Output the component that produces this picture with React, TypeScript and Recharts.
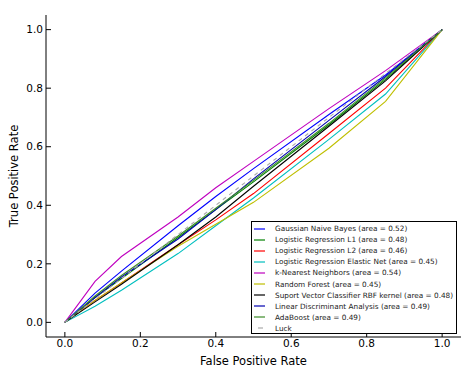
import { LineChart, Line, XAxis, YAxis, Legend } from 'recharts'

// false positive rate grid shared by every curve
const fpr = [0, 0.08, 0.15, 0.3, 0.4, 0.5, 0.7, 0.85, 1]

const gaussianNB = [0, 0.1, 0.175, 0.33, 0.43, 0.525, 0.71, 0.845, 1]
const logRegL1 = [0, 0.085, 0.15, 0.29, 0.385, 0.48, 0.675, 0.83, 1]
const logRegL2 = [0, 0.075, 0.135, 0.265, 0.35, 0.44, 0.645, 0.8, 1]
const logRegElastic = [0, 0.055, 0.11, 0.235, 0.33, 0.425, 0.625, 0.78, 1]
const knn = [0, 0.14, 0.225, 0.36, 0.46, 0.55, 0.73, 0.86, 1]
const randomForest = [0, 0.075, 0.135, 0.26, 0.335, 0.41, 0.595, 0.755, 1]
const svcRbf = [0, 0.07, 0.13, 0.265, 0.36, 0.465, 0.67, 0.825, 1]
const lda = [0, 0.085, 0.155, 0.285, 0.385, 0.49, 0.69, 0.84, 1]
const adaBoost = [0, 0.09, 0.16, 0.295, 0.39, 0.485, 0.68, 0.835, 1]

const luckX = [0, 1]
const ticks = [0, 0.2, 0.4, 0.6, 0.8, 1.0]

const toPoints = (ys: number[]) => ys.map((y, i) => ({ x: fpr[i], y }))

const series = [
  { name: 'Gaussian Naive Bayes (area = 0.52)', color: '#0000ff', data: toPoints(gaussianNB) },
  { name: 'Logistic Regression L1 (area = 0.48)', color: '#008000', data: toPoints(logRegL1) },
  { name: 'Logistic Regression L2 (area = 0.46)', color: '#ff0000', data: toPoints(logRegL2) },
  { name: 'Logistic Regression Elastic Net (area = 0.45)', color: '#00bfbf', data: toPoints(logRegElastic) },
  { name: 'k-Nearest Neighbors (area = 0.54)', color: '#bf00bf', data: toPoints(knn) },
  { name: 'Random Forest (area = 0.45)', color: '#bfbf00', data: toPoints(randomForest) },
  { name: 'Suport Vector Classifier RBF kernel (area = 0.48)', color: '#000000', data: toPoints(svcRbf) },
  { name: 'Linear Discriminant Analysis (area = 0.49)', color: '#0000b0', data: toPoints(lda) },
  { name: 'AdaBoost (area = 0.49)', color: '#3c8c28', data: toPoints(adaBoost) },
]

const luck = luckX.map((v) => ({ x: v, y: v }))
const luckColor = '#aaaaaa'

const font = '"DejaVu Sans", sans-serif'

// legend drawn in series order (recharts would sort it by name)
const CustomLegend = () => {
  const entries = [...series.map((s) => ({ value: s.name, color: s.color })), { value: 'Luck', color: luckColor }]
  return (
    <div
      style={{
        width: 204,
        height: 110,
        border: '1px solid #000',
        background: '#fff',
        fontFamily: font,
        fontSize: 7.3,
        paddingTop: 1,
      }}
    >
      {entries.map((entry, index) => (
        <div key={index} style={{ display: 'flex', alignItems: 'center', height: 11.1 }}>
          <svg width={21} height={4} style={{ marginLeft: 2, flexShrink: 0 }}>
            {entry.value === 'Luck' ? (
              <line x1={4} y1={2} x2={9} y2={2} stroke={luckColor} strokeWidth={1.2} />
            ) : (
              <line x1={0} y1={2} x2={11} y2={2} stroke={entry.color} strokeWidth={1.2} />
            )}
          </svg>
          <span style={{ color: '#222', whiteSpace: 'nowrap' }}>{entry.value}</span>
        </div>
      ))}
    </div>
  )
}

export default function App() {
  return (
    <div>
      <style>{'body{margin:0;background:#fff}'}</style>
      <LineChart width={474} height={368} margin={{ top: 15, right: 13, bottom: 0, left: 0 }}>
        <XAxis
          dataKey="x"
          type="number"
          domain={[-0.05, 1.05]}
          ticks={ticks}
          tickFormatter={(v: number) => v.toFixed(1)}
          allowDataOverflow
          height={31}
          tickSize={-5}
          tickMargin={8}
          stroke="#000"
          tick={{ fill: '#000', fontSize: 10.5, fontFamily: font }}
          label={{ value: 'False Positive Rate', position: 'insideBottom', offset: 3, fill: '#000', fontSize: 11.5, fontFamily: font }}
        />
        <XAxis
          xAxisId="top"
          orientation="top"
          dataKey="x"
          type="number"
          domain={[-0.05, 1.05]}
          ticks={ticks}
          height={0}
          tickSize={-5}
          tick={false}
          stroke="#000"
        />
        <YAxis
          dataKey="y"
          type="number"
          domain={[-0.05, 1.05]}
          ticks={ticks}
          tickFormatter={(v: number) => v.toFixed(1)}
          allowDataOverflow
          width={46}
          tickSize={-5}
          tickMargin={8}
          stroke="#000"
          tick={{ fill: '#000', fontSize: 10.5, fontFamily: font }}
          label={{ value: 'True Positive Rate', angle: -90, position: 'insideLeft', offset: 14, fill: '#000', fontSize: 11.5, fontFamily: font, style: { textAnchor: 'middle' } }}
        />
        <YAxis
          yAxisId="right"
          orientation="right"
          dataKey="y"
          type="number"
          domain={[-0.05, 1.05]}
          ticks={ticks}
          width={0}
          tickSize={-5}
          tick={false}
          stroke="#000"
        />
        {series.map((s) => (
          <Line
            key={s.name}
            data={s.data}
            dataKey="y"
            name={s.name}
            type="linear"
            stroke={s.color}
            strokeWidth={1.1}
            dot={false}
            isAnimationActive={false}
          />
        ))}
        <Line
          data={luck}
          dataKey="y"
          name="Luck"
          type="linear"
          stroke={luckColor}
          strokeWidth={1.1}
          strokeDasharray="4 4"
          dot={false}
          isAnimationActive={false}
        />
        <Legend
          layout="vertical"
          align="center"
          verticalAlign="middle"
          content={<CustomLegend />}
          wrapperStyle={{ position: 'absolute', left: 251, top: 221, width: 206 }}
        />
      </LineChart>
    </div>
  )
}
